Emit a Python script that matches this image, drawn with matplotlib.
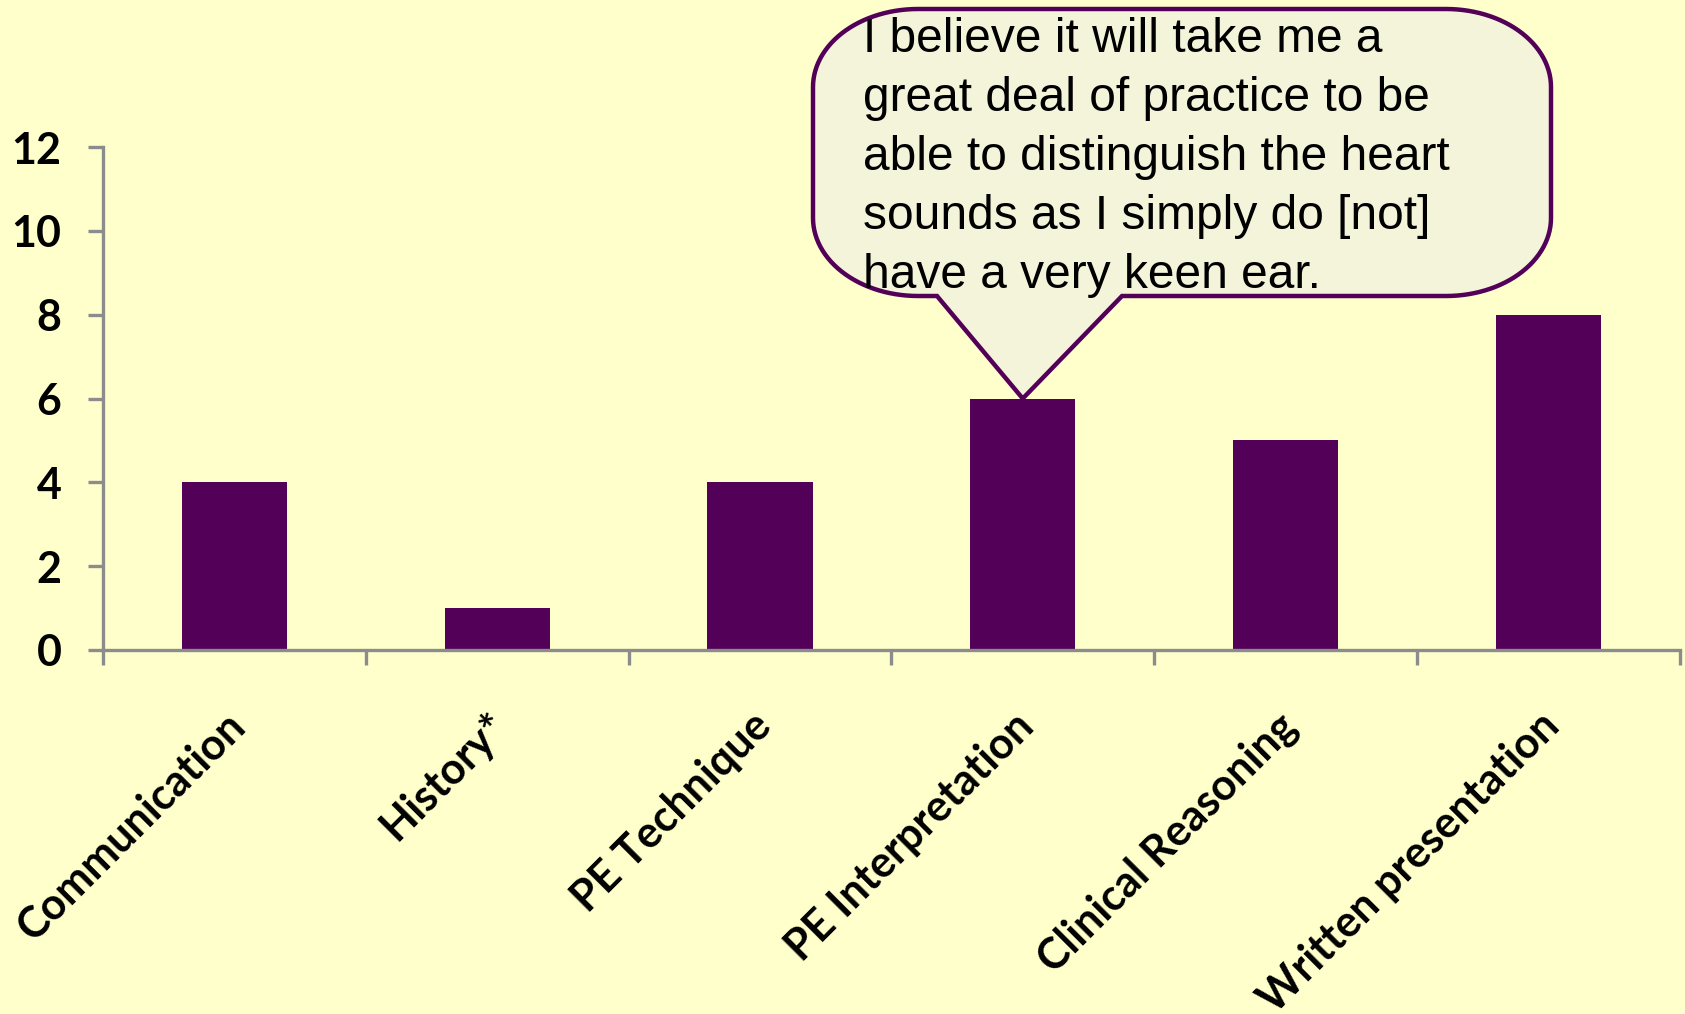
import numpy as np
import matplotlib.pyplot as plt
import matplotlib.transforms as mtransforms
from matplotlib.path import Path
from matplotlib.patches import PathPatch

skills = ['Communication', 'History*', 'PE Technique', 'PE Interpretation',
          'Clinical Reasoning', 'Written presentation']
counts = [4, 1, 4, 6, 5, 8]
quoted_skill = 'PE Interpretation'
quote = ('I believe it will take me a\n'
         'great deal of practice to be\n'
         'able to distinguish the heart\n'
         'sounds as I simply do [not]\n'
         'have a very keen ear.')

W, H = 1685, 1014
bg = '#FFFFCC'
purple = '#520058'
grey = '#8C8C8C'

fig = plt.figure(figsize=(W / 100, H / 100), dpi=100, facecolor=bg)
ax = fig.add_axes([0.0612, 0.359, 0.9356, 0.4959])
ax.set_facecolor(bg)

x = np.arange(len(skills))
ax.bar(x, counts, width=0.4, color=purple, zorder=2)

ax.set_xlim(-0.5, len(skills) - 0.5)
ax.set_ylim(0, 12)
ax.set_yticks(range(0, 13, 2))
ax.set_xticks(x)
ax.set_xticks(np.arange(-0.5, len(skills), 1), minor=True)
ax.set_xticklabels(skills, rotation=45, ha='right', va='top',
                   rotation_mode='anchor')

for s in ['top', 'right']:
    ax.spines[s].set_visible(False)
for s in ['left', 'bottom']:
    ax.spines[s].set_color(grey)
    ax.spines[s].set_linewidth(2.4)

ax.tick_params(axis='y', direction='out', length=11, width=2.4, color=grey,
               labelsize=31, pad=19)
ax.tick_params(axis='x', which='major', length=0, labelsize=31, pad=40)
ax.tick_params(axis='x', which='minor', direction='out', length=11,
               width=2.4, color=grey)
shift = mtransforms.ScaledTranslation(-10 / 100, 0, fig.dpi_scale_trans)
for lab in ax.get_xticklabels():
    lab.set_transform(lab.get_transform() + shift)
for lab in ax.get_xticklabels() + ax.get_yticklabels():
    lab.set_fontfamily(['Lato', 'DejaVu Sans'])
    lab.set_fontweight('bold')

# speech bubble pointing at the quoted bar (pixel coords, y up)
L, R, T, B = 813, 1551, 1005, 718
rx, ry = 105, 78
base_left, base_right = 937, 1122
i = skills.index(quoted_skill)
tip = ax.transData.transform((x[i], counts[i]))


def arc(cx, cy, a0, a1):
    t = np.radians(np.linspace(a0, a1, 30))
    return list(zip(cx + rx * np.cos(t), cy + ry * np.sin(t)))


pts = [(base_right, B)]
pts += arc(R - rx, B + ry, -90, 0)
pts += arc(R - rx, T - ry, 0, 90)
pts += arc(L + rx, T - ry, 90, 180)
pts += arc(L + rx, B + ry, 180, 270)
pts += [(base_left, B), tuple(tip), (base_right, B)]
pts = np.array(pts) / [W, H]
bubble = PathPatch(Path(pts, closed=True), transform=fig.transFigure,
                   facecolor='#F4F4DA', edgecolor=purple, linewidth=3.2,
                   joinstyle='miter', zorder=5)
fig.add_artist(bubble)

# baseline here is that of the last line
fig.text(0.512, 0.7161, quote, fontsize=34.5, va='baseline', ha='left',
         family=['Liberation Sans', 'DejaVu Sans'], linespacing=1.40,
         color='black', zorder=6)

fig.savefig('out.png', dpi=100, facecolor=bg)
